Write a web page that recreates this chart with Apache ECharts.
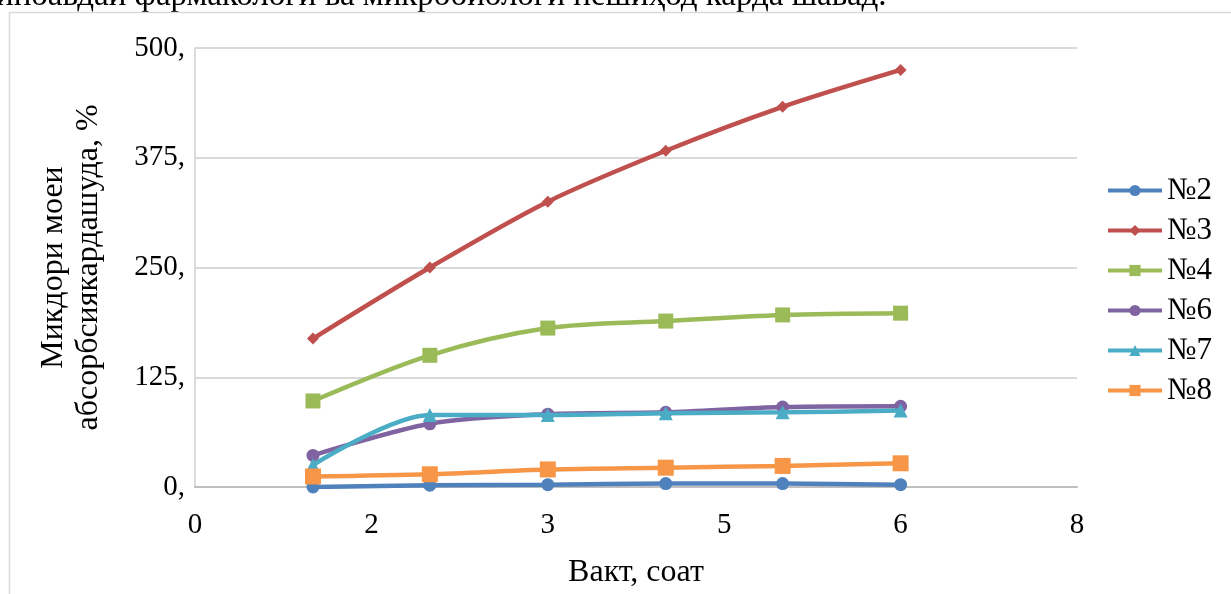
<!DOCTYPE html>
<html>
<head>
<meta charset="utf-8">
<script src="https://cdn.jsdelivr.net/npm/echarts@6/dist/echarts.min.js"></script>
<style>
  html, body { margin: 0; padding: 0; background: #fff; }
  #chart { width: 1231px; height: 594px; }
</style>
</head>
<body>
<div id="chart"></div>
<script>
// Sampling times (hours)
const hours = [1.07, 2.13, 3.2, 4.27, 5.33, 6.4];

// Absorbed liquid, % — one array per sample
const s2 = [0, 2, 2.7, 3.9, 3.9, 2.7];
const s3 = [169, 250, 325, 383, 433, 475];
const s4 = [98, 150, 181, 189, 196, 198];
const s6 = [36, 72, 83, 85, 91, 92];
const s7 = [25, 82, 82, 84, 85, 87];
const s8 = [12, 14.5, 20, 22, 24, 27];

const seriesNames = ['№2', '№3', '№4', '№6', '№7', '№8'];
const seriesValues = [s2, s3, s4, s6, s7, s8];
const colors = ['#4F81BD', '#C0504D', '#9BBB59', '#8064A2', '#4BACC6', '#F79646'];
const symbols = ['circle', 'diamond', 'rect', 'circle', 'triangle', 'rect'];
const symbolSizes = [13, 12, 15, 13, 14, 16];

const serif = '"Liberation Serif", "Times New Roman", serif';

const chart = echarts.init(document.getElementById('chart'), null, { renderer: 'canvas' });

chart.setOption({
  backgroundColor: '#fff',
  animation: false,
  color: colors,
  graphic: [
    {
      type: 'text',
      left: -4,
      top: -20,
      style: {
        text: 'ипоавдаи фармакологи ва микробиологи нешиҳод карда шавад.',
        font: '33px ' + serif,
        fill: '#000'
      }
    },
    {
      type: 'rect',
      shape: { x: 9.5, y: 12.5, width: 1240, height: 600 },
      style: { fill: 'none', stroke: '#d9d9d9', lineWidth: 1.5 },
      silent: true
    }
  ],
  grid: { left: 195, right: 154, top: 48, bottom: 107, outerBoundsMode: 'none', containLabel: false },
  legend: {
    orient: 'vertical',
    left: 1101,
    top: 170,
    itemWidth: 54,
    itemHeight: 14,
    itemGap: 9,
    lineStyle: { width: 4 },
    textStyle: { fontFamily: serif, fontSize: 31, color: '#000' },
    data: seriesNames
  },
  xAxis: {
    type: 'value',
    min: 0,
    max: 8,
    interval: 1.6,
    name: 'Вакт, соат',
    nameLocation: 'middle',
    nameGap: 70,
    nameTextStyle: { fontFamily: serif, fontSize: 32, color: '#000' },
    axisLine: { show: true, onZero: false, lineStyle: { color: '#bfbfbf', width: 2 } },
    axisTick: { show: false },
    splitLine: { show: false },
    axisLabel: {
      fontFamily: serif, fontSize: 29, color: '#000', margin: 24,
      formatter: v => String(Math.round(v))
    }
  },
  yAxis: {
    type: 'value',
    min: 0,
    max: 500,
    interval: 125,
    name: 'Микдори моеи\nабсорбсиякардашуда, %',
    nameLocation: 'middle',
    nameRotate: 90,
    nameGap: 89,
    nameTextStyle: { fontFamily: serif, fontSize: 32, color: '#000', lineHeight: 35 },
    axisLine: { show: true, lineStyle: { color: '#d0d0d0', width: 1.5 } },
    axisTick: { show: false },
    splitLine: { lineStyle: { color: '#d9d9d9', width: 2 } },
    axisLabel: {
      fontFamily: serif, fontSize: 29, color: '#000', margin: 10,
      formatter: v => v + ','
    }
  },
  series: seriesNames.map((name, i) => ({
    name,
    type: 'line',
    smooth: 0.3,
    data: hours.map((h, j) => [h, seriesValues[i][j]]),
    symbol: symbols[i],
    symbolSize: symbolSizes[i],
    lineStyle: { width: 4.5, color: colors[i] },
    itemStyle: { color: colors[i] },
    z: 2 + i
  }))
});
</script>
</body>
</html>
